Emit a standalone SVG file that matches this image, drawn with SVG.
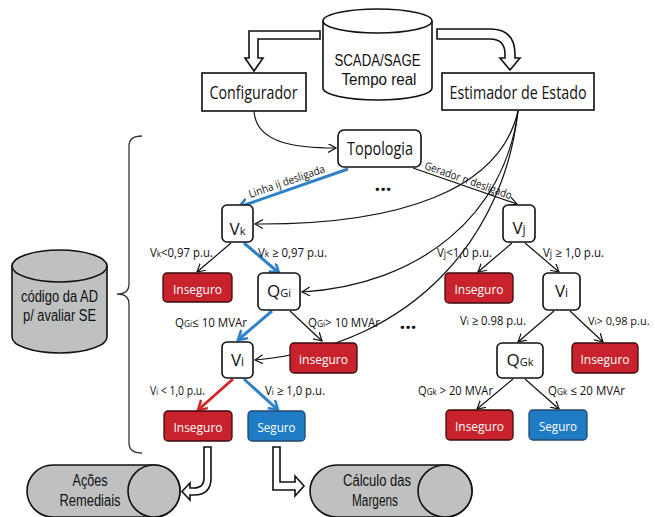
<svg xmlns="http://www.w3.org/2000/svg" width="655" height="517" viewBox="0 0 655 517">
  <defs>
    <style>
      text { font-family: 'Open Sans', 'Liberation Sans', sans-serif; fill: #111; }
      .box { fill: #fff; stroke: #111; stroke-width: 1.6; }
      .node { fill: #fff; stroke: #111; stroke-width: 1.6; }
      .bad { fill: #c8232c; stroke: #3a0c0c; stroke-width: 1.3; }
      .good { fill: #1f7cc4; stroke: #23456e; stroke-width: 1.3; }
      .drum { fill: #bfc0c0; stroke: #111; stroke-width: 1.6; }
      .blk { fill: #fff; stroke: #111; stroke-width: 1.6; stroke-linejoin: miter; }
      .lbl { font-size: 12.5px; }
      .big { font-size: 19px; }
      .two { font-family: 'Liberation Sans', 'Open Sans', sans-serif; font-size: 16px; text-anchor: middle; }
      .res { font-size: 13px; fill: #fff; text-anchor: middle; }
      .nv { font-size: 17px; text-anchor: middle; }
      .sub { font-size: 11px; }
      .e { fill: none; stroke: #111; stroke-width: 1.2; marker-end: url(#ah); }
      .eb { fill: none; stroke: #2f80c6; stroke-width: 3; marker-end: url(#ahb); }
      .er { fill: none; stroke: #d02a2a; stroke-width: 3; marker-end: url(#ahr); }
    </style>
    <marker id="ah" markerUnits="userSpaceOnUse" markerWidth="12" markerHeight="12" refX="8" refY="4.5" orient="auto">
      <path d="M0,0 L8,4.5 L0,9" fill="none" stroke="#111" stroke-width="1.2"/>
    </marker>
    <marker id="ahb" markerUnits="userSpaceOnUse" markerWidth="14" markerHeight="14" refX="9" refY="5.5" orient="auto">
      <path d="M0,0 L9,5.5 L0,11" fill="none" stroke="#2f80c6" stroke-width="2.6"/>
    </marker>
    <marker id="ahr" markerUnits="userSpaceOnUse" markerWidth="14" markerHeight="14" refX="9" refY="5.5" orient="auto">
      <path d="M0,0 L9,5.5 L0,11" fill="none" stroke="#d02a2a" stroke-width="2.6"/>
    </marker>
  </defs>

  <!-- hollow block arrows -->
  <g id="block-arrows">
    <path class="blk" d="M320,31 L249,31 L249,58 L245,58 L254,71 L263,58 L258,58 L258,39 L320,39 Z"/>
    <path class="blk" d="M437,29 L490,29 Q515,29 515,54 L515,58 L520,58 L510,70 L500,58 L505,58 L505,54 Q505,39 490,39 L437,39 Z"/>
    <path class="blk" d="M204,447 L211,447 L211,478 Q211,495 194,495 L190,495 L190,500 L182,491.5 L190,483 L190,488 L194,488 Q204,488 204,478 Z"/>
    <path class="blk" d="M273,447 L280,447 L280,482 L295,482 L295,476 L304,486 L295,496 L295,490 L273,490 Z"/>
  </g>

  <!-- connectors -->
  <g id="connectors">
    <path class="e" d="M254,111 C256,145 300,148 336,148"/>
    <path class="e" d="M518,111 C500,190 400,225 255,224"/>
    <path class="e" d="M518,111 C505,215 420,285 302,292"/>
    <path class="e" d="M518,111 C505,230 420,345 255,360"/>
    <path class="eb" d="M348,169 L239,207"/>
    <path class="e" d="M413,168 L517,204"/>
    <path class="e" d="M231,243 L197,272"/>
    <path class="eb" d="M244,243 L279,273"/>
    <path class="eb" d="M272,311 L238,340"/>
    <path class="e" d="M290,311 L322,341"/>
    <path class="er" d="M233,379 L198,410"/>
    <path class="eb" d="M244,379 L278,410"/>
    <path class="e" d="M512,243 L478,272"/>
    <path class="e" d="M525,243 L559,272"/>
    <path class="e" d="M554,311 L518,342"/>
    <path class="e" d="M570,311 L603,342"/>
    <path class="e" d="M513,379 L477,409"/>
    <path class="e" d="M525,379 L559,409"/>
  </g>

  <!-- branch labels -->
  <g id="labels">
    <text transform="translate(288,185) rotate(-19)" font-size="11" text-anchor="middle" textLength="80" lengthAdjust="spacingAndGlyphs">Linha ij desligada</text>
    <text transform="translate(467,184) rotate(19.5)" font-size="11" text-anchor="middle" textLength="92" lengthAdjust="spacingAndGlyphs">Gerador n desligado</text>
    <text x="383" y="191" font-size="20" font-weight="bold" text-anchor="middle">...</text>
    <text x="408" y="329" font-size="20" font-weight="bold" text-anchor="middle">...</text>

    <text class="lbl" x="150" y="257" textLength="63" lengthAdjust="spacingAndGlyphs">V<tspan font-size="9">k</tspan>&lt;0,97 p.u.</text>
    <text class="lbl" x="258" y="257" textLength="69" lengthAdjust="spacingAndGlyphs">V<tspan font-size="9">k</tspan> ≥ 0,97 p.u.</text>
    <text class="lbl" x="175" y="327" textLength="72" lengthAdjust="spacingAndGlyphs">Q<tspan font-size="9">Gi</tspan>≤ 10 MVAr</text>
    <text class="lbl" x="308" y="327" textLength="72" lengthAdjust="spacingAndGlyphs">Q<tspan font-size="9">Gi</tspan>&gt; 10 MVAr</text>
    <text class="lbl" x="150" y="395" textLength="55" lengthAdjust="spacingAndGlyphs">V<tspan font-size="9">i</tspan> &lt; 1,0 p.u.</text>
    <text class="lbl" x="265" y="395" textLength="60" lengthAdjust="spacingAndGlyphs">V<tspan font-size="9">i</tspan> ≥ 1,0 p.u.</text>

    <text class="lbl" x="437" y="257" textLength="55" lengthAdjust="spacingAndGlyphs">V<tspan font-size="10">j</tspan>&lt;1,0 p.u.</text>
    <text class="lbl" x="543" y="257" textLength="61" lengthAdjust="spacingAndGlyphs">V<tspan font-size="10">j</tspan> ≥ 1,0 p.u.</text>
    <text class="lbl" x="460" y="325" textLength="66" lengthAdjust="spacingAndGlyphs">V<tspan font-size="9">i</tspan> ≥ 0.98 p.u.</text>
    <text x="588" y="325" font-size="11">V<tspan font-size="8">i</tspan>&gt; 0,98 p.u.</text>
    <text class="lbl" x="418" y="395" textLength="75" lengthAdjust="spacingAndGlyphs">Q<tspan font-size="9">Gk</tspan> &gt; 20 MVAr</text>
    <text class="lbl" x="548" y="395" textLength="77" lengthAdjust="spacingAndGlyphs">Q<tspan font-size="9">Gk</tspan> ≤ 20 MVAr</text>
  </g>

  <!-- data source -->
  <g id="scada">
    <path class="box" d="M323,21 L323,88 A54.5,12 0 0 0 432,88 L432,21"/>
    <ellipse class="box" cx="377.5" cy="21" rx="54.5" ry="12"/>
    <text class="two" x="377.5" y="66" font-size="17" textLength="86" lengthAdjust="spacingAndGlyphs">SCADA/SAGE</text>
    <text class="two" x="379" y="85" font-size="17" textLength="75" lengthAdjust="spacingAndGlyphs">Tempo real</text>
  </g>

  <g id="configurador">
    <rect class="box" x="202" y="73" width="104" height="38"/>
    <text class="big" x="253.5" y="99" text-anchor="middle" textLength="88" lengthAdjust="spacingAndGlyphs">Configurador</text>
  </g>

  <g id="estimador">
    <rect class="box" x="442" y="73" width="152" height="37"/>
    <text class="big" x="518" y="99" text-anchor="middle" textLength="137" lengthAdjust="spacingAndGlyphs">Estimador de Estado</text>
  </g>

  <g id="topologia">
    <rect class="node" x="338" y="130" width="83" height="37" rx="6"/>
    <text x="380" y="155" font-size="18" text-anchor="middle" textLength="66" lengthAdjust="spacingAndGlyphs">Topologia</text>
  </g>

  <!-- decision nodes -->
  <g id="vk">
    <rect class="node" x="222" y="205" width="31" height="37" rx="5"/>
    <text class="nv" x="237.5" y="235">V<tspan class="sub">k</tspan></text>
  </g>
  <g id="qgi">
    <rect class="node" x="258" y="273" width="42" height="37" rx="5"/>
    <text class="nv" x="279" y="297">Q<tspan class="sub">Gi</tspan></text>
  </g>
  <g id="vi-a">
    <rect class="node" x="222" y="342" width="31" height="36" rx="5"/>
    <text class="nv" x="237.5" y="366">V<tspan font-size="12">i</tspan></text>
  </g>
  <g id="vj">
    <rect class="node" x="503" y="205" width="32" height="37" rx="5"/>
    <text class="nv" x="519" y="234">V<tspan font-size="12">j</tspan></text>
  </g>
  <g id="vi-b">
    <rect class="node" x="543" y="273" width="37" height="37" rx="5"/>
    <text class="nv" x="561.5" y="297">V<tspan font-size="12">i</tspan></text>
  </g>
  <g id="qgk">
    <rect class="node" x="497" y="343" width="46" height="35" rx="5"/>
    <text class="nv" x="520" y="366">Q<tspan class="sub">Gk</tspan></text>
  </g>

  <!-- outcomes -->
  <g id="inseguro-vk">
    <rect class="bad" x="163" y="273" width="69" height="29" rx="4"/>
    <text class="res" x="197.5" y="294" textLength="49" lengthAdjust="spacingAndGlyphs">Inseguro</text>
  </g>
  <g id="inseguro-qgi">
    <rect class="bad" x="290" y="343" width="67" height="30" rx="4"/>
    <text class="res" x="323.5" y="364" textLength="49" lengthAdjust="spacingAndGlyphs">inseguro</text>
  </g>
  <g id="inseguro-vi-a">
    <rect class="bad" x="164" y="411" width="68" height="30" rx="4"/>
    <text class="res" x="198" y="432" textLength="49" lengthAdjust="spacingAndGlyphs">Inseguro</text>
  </g>
  <g id="seguro-vi-a">
    <rect class="good" x="248" y="411" width="57" height="30" rx="4"/>
    <text class="res" x="276.5" y="432" textLength="38" lengthAdjust="spacingAndGlyphs">Seguro</text>
  </g>
  <g id="inseguro-vj">
    <rect class="bad" x="445" y="273" width="68" height="30" rx="4"/>
    <text class="res" x="479" y="294" textLength="49" lengthAdjust="spacingAndGlyphs">Inseguro</text>
  </g>
  <g id="inseguro-vi-b">
    <rect class="bad" x="572" y="343" width="66" height="30" rx="4"/>
    <text class="res" x="605" y="364" textLength="49" lengthAdjust="spacingAndGlyphs">Inseguro</text>
  </g>
  <g id="inseguro-qgk">
    <rect class="bad" x="446" y="410" width="67" height="30" rx="4"/>
    <text class="res" x="479.5" y="431" textLength="49" lengthAdjust="spacingAndGlyphs">Inseguro</text>
  </g>
  <g id="seguro-qgk">
    <rect class="good" x="529" y="410" width="58" height="30" rx="4"/>
    <text class="res" x="558" y="431" textLength="38" lengthAdjust="spacingAndGlyphs">Seguro</text>
  </g>

  <!-- rule base and its brace -->
  <g id="codigo-ad">
    <path class="drum" d="M12,266 L12,337 A47.5,16 0 0 0 107,337 L107,266 Z"/>
    <ellipse class="drum" cx="59.5" cy="266" rx="47.5" ry="16"/>
    <text class="two" x="59.5" y="302" textLength="77" lengthAdjust="spacingAndGlyphs">código da AD</text>
    <text class="two" x="59.5" y="321" textLength="73" lengthAdjust="spacingAndGlyphs">p/ avaliar SE</text>
  </g>
  <g id="chave">
    <path d="M142,136 Q129,136 129,146 L129,284 Q129,294 117,294 Q129,294 129,304 L129,443 Q129,453 142,453" fill="none" stroke="#333" stroke-width="1.3"/>
  </g>

  <!-- follow-up processes -->
  <g id="acoes-remediais">
    <path class="drum" d="M53,465 L154,465 A26,26 0 0 1 154,517 L53,517 A26,26 0 0 1 53,465 Z"/>
    <ellipse class="drum" cx="154" cy="491" rx="26" ry="26"/>
    <text class="two" x="90" y="486" textLength="35" lengthAdjust="spacingAndGlyphs">Ações</text>
    <text class="two" x="90" y="506" textLength="61" lengthAdjust="spacingAndGlyphs">Remediais</text>
  </g>
  <g id="calculo-margens">
    <path class="drum" d="M337,465 L445,465 A27,26 0 0 1 445,517 L337,517 A27,26 0 0 1 337,465 Z"/>
    <ellipse class="drum" cx="445" cy="491" rx="27" ry="26"/>
    <text class="two" x="377" y="486" textLength="68" lengthAdjust="spacingAndGlyphs">Cálculo das</text>
    <text class="two" x="375" y="506" textLength="46" lengthAdjust="spacingAndGlyphs">Margens</text>
  </g>
</svg>
